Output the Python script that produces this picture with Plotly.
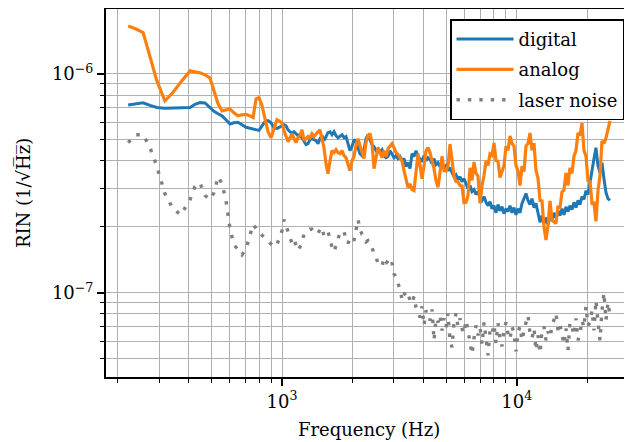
import plotly.graph_objects as go

UNIT = 1e-7  # values below are given in units of 1e-7 (1/sqrt(Hz))

freq = [
    221, 239, 256, 274, 293, 317, 343, 371, 406, 426,
    447, 470, 493, 513, 534, 555, 577, 600, 624, 649,
    675, 703, 731, 753, 775, 798, 822, 847, 872, 898,
    925, 952, 981,
    1000, 1020, 1040, 1061, 1082, 1103, 1125, 1147, 1170, 1193,
    1217, 1241, 1266, 1291, 1316, 1342, 1369, 1396, 1424, 1452,
    1481, 1510, 1540, 1570, 1602, 1633, 1666, 1699, 1732, 1767,
    1802, 1837, 1874, 1911, 1949, 1987, 2027, 2067, 2108, 2149,
    2192, 2235, 2280, 2325, 2371, 2418, 2466, 2515, 2565, 2616,
    2668, 2721, 2774, 2830, 2886, 2943, 3001, 3060, 3121, 3183,
    3246, 3310, 3376, 3443, 3511, 3581, 3651, 3724, 3798, 3873,
    3950, 4028, 4108, 4189, 4272, 4357, 4443, 4531, 4621, 4712,
    4806, 4901, 4998, 5097, 5198, 5301, 5406, 5513, 5623, 5734,
    5847, 5963, 6081, 6202, 6325, 6450, 6578, 6708, 6841, 6977,
    7115, 7256, 7399, 7547, 7696, 7848, 8004, 8162, 8324, 8489,
    8657, 8829, 9003, 9182, 9364, 9549, 9739, 9931, 10129, 10329,
    10534, 10742, 10955, 11173, 11392, 11618, 11848, 12082, 12323, 12567,
    12816, 13070, 13329, 13594, 13862, 14136, 14416, 14702, 14995, 15290,
    15593, 15902, 16216, 16539, 16866, 17200, 17541, 17888, 18244, 18605,
    18973, 19349, 19732, 20125, 20522, 20928, 21343, 21765, 22198, 22638,
    23086, 23543, 24009, 24486, 24970,
]

digital = [
    7.20, 7.30, 7.38, 7.18, 7.02, 6.96, 6.98, 7.00, 7.02, 7.26,
    7.39, 7.37, 7.04, 6.75, 6.57, 6.43, 6.17, 5.90, 5.98, 6.01,
    5.86, 5.70, 5.64, 5.59, 5.58, 5.52, 5.79, 6.05, 6.11, 5.98,
    5.67, 5.64, 5.73,
    5.79, 5.86, 5.79, 5.55, 5.44, 5.33, 5.44, 5.33, 5.22, 5.27,
    5.11, 4.90, 4.75, 4.80, 5.01, 5.06, 5.01, 4.95, 4.80, 5.06,
    5.22, 4.95, 5.17, 5.39, 5.44, 5.27, 5.44, 5.22, 5.11, 5.17,
    5.27, 5.11, 5.17, 4.80, 4.46, 4.65, 5.01, 4.90, 4.60, 4.32,
    4.23, 4.51, 5.06, 5.27, 5.01, 4.75, 4.65, 4.46, 4.55, 4.41,
    4.51, 4.23, 4.14, 4.19, 4.46, 4.32, 4.14, 4.23, 4.10, 4.19,
    4.01, 4.10, 3.77, 3.93, 3.69, 4.32, 4.19, 4.46, 4.19, 4.10,
    3.97, 4.23, 4.01, 4.14, 4.06, 3.89, 4.10, 3.85, 3.93, 3.77,
    3.89, 3.73, 3.81, 3.61, 3.73, 3.54, 3.39, 3.46, 3.29, 3.39,
    3.22, 3.32, 3.12, 2.99, 3.09, 2.90, 2.96, 2.81, 2.90, 2.72,
    2.64, 2.75, 2.59, 2.50, 2.61, 2.42, 2.50, 2.32, 2.53, 2.37,
    2.47, 2.30, 2.42, 2.35, 2.50, 2.32, 2.45, 2.27, 2.42, 2.32,
    2.56, 2.69, 2.84, 2.64, 2.53, 2.69, 2.45, 2.56, 2.27, 2.10,
    2.25, 2.07, 2.20, 2.05, 2.23, 2.14, 2.32, 2.20, 2.37, 2.25,
    2.42, 2.27, 2.47, 2.35, 2.50, 2.40, 2.59, 2.45, 2.64, 2.53,
    2.75, 2.67, 2.93, 2.81, 3.18, 3.54, 4.10, 4.60, 3.81, 3.54,
    3.93, 3.32, 2.87, 2.69, 2.64,
]

analog = [
    16.55, 16.04, 15.44, 12.08, 9.29, 7.53, 8.22, 9.19, 10.32, 10.21,
    10.11, 9.90, 9.59, 8.37, 7.30, 6.78, 6.86, 6.91, 6.64, 6.43,
    6.50, 6.53, 6.43, 6.32, 7.69, 7.79, 7.15, 6.11, 5.44, 5.11,
    5.61, 6.17, 6.05,
    5.98, 5.50, 5.17, 4.90, 5.11, 5.33, 5.06, 4.85, 5.11, 5.22,
    5.55, 4.95, 5.06, 5.17, 5.11, 5.33, 5.17, 5.33, 5.44, 5.55,
    4.95, 4.60, 3.89, 3.50, 4.01, 4.46, 4.37, 4.51, 4.37, 4.32,
    4.46, 4.23, 4.14, 3.81, 3.61, 4.01, 4.19, 4.70, 5.06, 4.70,
    4.32, 4.10, 4.85, 5.22, 5.33, 4.85, 3.69, 4.23, 4.60, 4.37,
    4.14, 4.46, 4.19, 4.55, 4.70, 4.80, 4.60, 4.37, 4.28, 4.14,
    4.01, 3.61, 3.32, 3.03, 3.15, 2.96, 2.93, 3.61, 4.32, 3.81,
    3.32, 3.81, 4.46, 4.60, 4.37, 4.01, 3.69, 3.25, 3.03, 3.54,
    4.20, 3.62, 3.60, 3.81, 4.78, 4.02, 3.41, 3.22, 3.21, 3.09,
    3.08, 2.58, 2.59, 2.78, 3.72, 3.26, 3.96, 3.51, 3.41, 2.56,
    3.08, 3.43, 4.00, 3.81, 4.31, 4.24, 4.83, 4.02, 4.00, 3.36,
    3.63, 3.81, 4.68, 4.47, 5.20, 4.81, 4.68, 3.81, 3.60, 3.09,
    3.79, 3.58, 4.68, 4.81, 5.37, 4.47, 4.83, 3.62, 3.34, 2.64,
    2.63, 2.00, 1.74, 2.03, 2.63, 2.14, 2.11, 2.07, 2.49, 2.43,
    2.89, 2.94, 3.53, 3.09, 3.72, 3.51, 4.21, 4.47, 5.37, 5.23,
    5.95, 4.47, 4.21, 3.26, 3.24, 2.56, 2.57, 2.12, 2.92, 3.43,
    4.94, 4.81, 5.09, 5.50, 6.10,
]

laser_noise = [
    4.85, 5.27, 5.27, 4.60, 3.77, 2.84, 2.42, 2.27, 2.67, 3.06,
    3.18, 2.78, 2.67, 2.87, 3.39, 3.15, 2.64, 1.97, 1.66, 1.57,
    1.49, 1.59, 1.86, 2.05, 1.97, 1.88, 1.83, 1.77, 1.73, 1.66,
    1.62, 1.66, 1.81,
    1.92, 2.16, 2.03, 1.90, 1.77, 1.68, 1.75, 1.64, 1.56, 1.62,
    1.69, 1.86, 1.90, 1.92, 1.95, 1.95, 1.90, 1.86, 1.86, 1.95,
    1.99, 1.81, 1.86, 1.90, 1.77, 1.61, 1.54, 1.66, 1.77, 1.88,
    1.86, 1.90, 1.77, 1.68, 1.77, 1.79, 1.73, 1.95, 2.16, 1.95,
    1.85, 1.81, 1.71, 1.73, 1.66, 1.61, 1.51, 1.45, 1.36, 1.37,
    1.33, 1.43, 1.36, 1.40, 1.33, 1.37, 1.22, 1.18, 1.10, 1.04,
    0.932, 1.00, 0.962, 0.992, 0.922, 0.894, 0.962, 0.857, 0.813, 0.772,
    0.866, 0.709, 0.830, 0.780, 0.748, 0.839, 0.606, 0.764, 0.732, 0.788,
    0.673, 0.764, 0.695, 0.805, 0.606, 0.563, 0.732, 0.805, 0.702, 0.764,
    0.687, 0.652, 0.748, 0.673, 0.588, 0.524, 0.619, 0.709, 0.639, 0.695,
    0.581, 0.732, 0.619, 0.518, 0.673, 0.646, 0.717, 0.588, 0.725, 0.619,
    0.569, 0.673, 0.732, 0.652, 0.613, 0.702, 0.652, 0.540, 0.659, 0.702,
    0.606, 0.680, 0.732, 0.788, 0.652, 0.619, 0.687, 0.546, 0.639, 0.529,
    0.673, 0.702, 0.606, 0.666, 0.626, 0.702, 0.748, 0.805, 0.673, 0.717,
    0.639, 0.581, 0.687, 0.546, 0.732, 0.702, 0.639, 0.764, 0.606, 0.652,
    0.748, 0.695, 0.866, 0.709, 0.732, 0.830, 0.673, 0.922, 0.740, 0.606,
    0.830, 1.00, 0.748, 0.903, 0.788,
]

x_major = [1e3, 1e4]
x_major_text = ["10<sup>3</sup>", "10<sup>4</sup>"]
x_minor = [200, 300, 400, 500, 600, 700, 800, 900,
           2000, 3000, 4000, 5000, 6000, 7000, 8000, 9000, 20000, 30000]
y_major = [1e-7, 1e-6]
y_major_text = ["10<sup>\u22127</sup>", "10<sup>\u22126</sup>"]
y_minor = [5e-8, 6e-8, 7e-8, 8e-8, 9e-8,
           2e-7, 3e-7, 4e-7, 5e-7, 6e-7, 7e-7, 8e-7, 9e-7, 2e-6]

FONT = "DejaVu Serif, Liberation Serif, serif"
GRID = "#b0b0b0"

n = min(len(freq), len(digital), len(analog), len(laser_noise))
f = freq[:n]

fig = go.Figure()
fig.add_trace(go.Scatter(x=f, y=[v * UNIT for v in digital[:n]], mode="lines",
                         name="digital", legendgroup="g1",
                         line=dict(color="#1f77b4", width=3)))
fig.add_trace(go.Scatter(x=f, y=[v * UNIT for v in analog[:n]], mode="lines",
                         name="analog", legendgroup="g2",
                         line=dict(color="#ff7f0e", width=3.2)))
fig.add_trace(go.Scatter(x=f, y=[v * UNIT for v in laser_noise[:n]], mode="lines",
                         name="laser noise", legendgroup="g3",
                         line=dict(color="#7f7f7f", width=3.4, dash="3.4px,8px")))

axis_common = dict(
    type="log", tickmode="array", ticks="outside", ticklen=7, tickwidth=1.5,
    tickcolor="black", showline=True, linecolor="black", linewidth=2,
    mirror=True, showgrid=True, gridcolor=GRID, gridwidth=1, zeroline=False,
    automargin=False,
    tickfont=dict(family=FONT, size=18, color="black"),
)

fig.update_layout(
    width=624, height=434,
    margin=dict(l=98, r=1, t=1, b=65, autoexpand=False),
    paper_bgcolor="white", plot_bgcolor="white",
    font=dict(family=FONT, size=18, color="black"),
    showlegend=True,
    legend=dict(x=0.9867, y=0.972, xanchor="right", yanchor="top",
                bgcolor="white", bordercolor="black", borderwidth=1.5,
                traceorder="grouped", tracegroupgap=4, itemwidth=57,
                font=dict(family=FONT, size=18, color="black")),
    xaxis=dict(range=[2.2501, 4.487], tickvals=x_major, ticktext=x_major_text,
               minor=dict(tickmode="array", tickvals=x_minor, ticks="outside",
                          ticklen=4, tickwidth=1, tickcolor="black",
                          showgrid=True, gridcolor=GRID, gridwidth=1),
               **axis_common),
    yaxis=dict(range=[-7.3849, -5.7036], tickvals=y_major, ticktext=y_major_text,
               minor=dict(tickmode="array", tickvals=y_minor, ticks="outside",
                          ticklen=4, tickwidth=1, tickcolor="black",
                          showgrid=True, gridcolor=GRID, gridwidth=1),
               **axis_common),
    annotations=[
        dict(text="Frequency (Hz)", xref="paper", yref="paper", x=0.5, y=-0.142,
             xanchor="center", yanchor="middle", showarrow=False,
             font=dict(family=FONT, size=18, color="black")),
        dict(text="RIN (1/\u221aH\u0305z\u0305)", xref="paper", yref="paper",
             x=-0.158, y=0.5, xanchor="center", yanchor="middle",
             textangle=-90, showarrow=False,
             font=dict(family=FONT, size=18, color="black")),
    ],
)

fig.write_html("out.html")
